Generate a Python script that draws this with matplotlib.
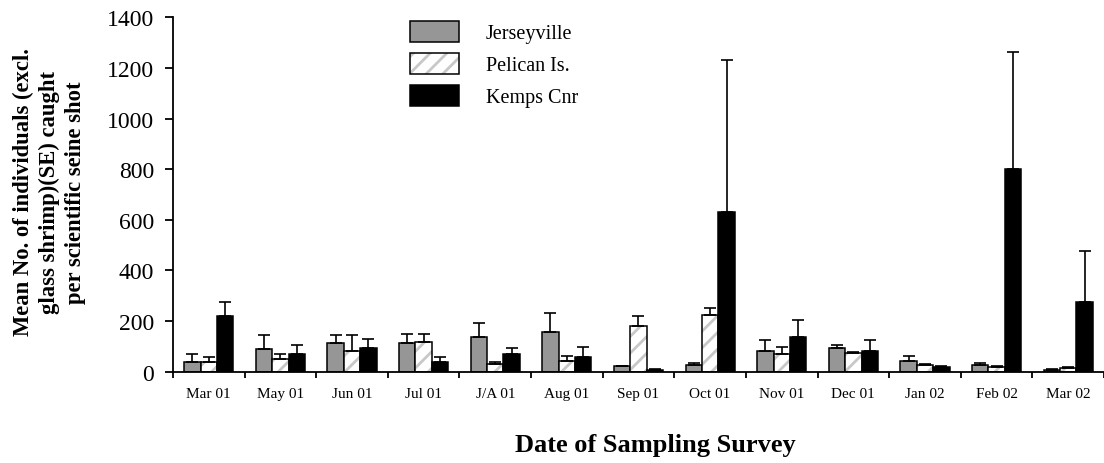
# Mean catch per seine shot at three sites, Mar 2001 - Mar 2002

import matplotlib
matplotlib.use('Agg')
import matplotlib.pyplot as plt
import numpy as np

surveys = ['Mar 01', 'May 01', 'Jun 01', 'Jul 01', 'J/A 01', 'Aug 01', 'Sep 01',
           'Oct 01', 'Nov 01', 'Dec 01', 'Jan 02', 'Feb 02', 'Mar 02']

jerseyville = [37, 88, 112, 112, 138, 157, 21, 26, 83, 93, 43, 26, 7]
jerseyville_se = [33, 55, 31, 38, 55, 74, 3, 7, 43, 13, 20, 7, 2]

pelican = [37, 50, 82, 118, 29, 43, 180, 225, 69, 72, 25, 20, 15]
pelican_se = [20, 20, 61, 32, 8, 20, 38, 25, 30, 4, 7, 1, 5]

kemps = [218, 71, 93, 38, 70, 57, 8, 630, 138, 83, 20, 800, 275]
kemps_se = [58, 35, 38, 19, 23, 42, 4, 600, 67, 43, 1, 462, 202]

plt.rcParams['font.family'] = ['Liberation Serif', 'DejaVu Serif']
plt.rcParams['hatch.linewidth'] = 2.0

fig = plt.figure(figsize=(11.04, 4.64), dpi=100)
ax = fig.add_axes([0.1567, 0.1968, 0.8433, 0.7638])

x = np.arange(len(surveys))
w = 0.229
err_kw = dict(fmt='none', ecolor='black', elinewidth=1.2, capsize=4.5, capthick=1.2)

def upper(se):
    return [np.zeros(len(se)), se]

b1 = ax.bar(x - w, jerseyville, w, color='#969696', edgecolor='black', linewidth=1.1, zorder=2)
ax.errorbar(x - w, jerseyville, yerr=upper(jerseyville_se), zorder=3, **err_kw)

b2h = ax.bar(x, pelican, w, color='white', edgecolor='#c8c8c8', hatch='//', linewidth=0, zorder=2)
b2 = ax.bar(x, pelican, w, color='none', edgecolor='black', linewidth=1.1, zorder=2)
ax.errorbar(x, pelican, yerr=upper(pelican_se), zorder=3, **err_kw)

b3 = ax.bar(x + w, kemps, w, color='black', edgecolor='black', linewidth=1.1, zorder=2)
ax.errorbar(x + w, kemps, yerr=upper(kemps_se), zorder=3, **err_kw)

ax.set_xlim(-0.5, len(surveys) - 0.5)
ax.set_ylim(0, 1400)
ax.set_yticks(np.arange(0, 1401, 200))
ax.set_xticks(x)
ax.set_xticklabels(surveys, fontsize=11)
ax.set_xticks(np.arange(-0.5, len(surveys), 1), minor=True)
ax.tick_params(axis='x', which='major', length=0, pad=11)
ax.tick_params(axis='x', which='minor', length=4, width=1.3, direction='out')
ax.tick_params(axis='y', labelsize=17, length=5.5, width=1.3, pad=8)
for s in ['top', 'right']:
    ax.spines[s].set_visible(False)
for s in ['left', 'bottom']:
    ax.spines[s].set_linewidth(1.3)

fig.text(655 / 1104, 0.04, 'Date of Sampling Survey', fontsize=19, fontweight='bold',
         ha='center', va='center')
fig.text(49 / 1104, 0.585, 'Mean No. of individuals (excl.\nglass shrimp)(SE) caught\nper scientific seine shot',
         fontsize=16.3, fontweight='bold', rotation=90, ha='center', va='center',
         multialignment='center', linespacing=1.3)

fig.legend([b1, (b2h, b2), b3], ['Jerseyville', 'Pelican Is.', 'Kemps Cnr'],
           loc='upper left', bbox_to_anchor=(410 / 1104, 1 - 22 / 464),
           frameon=False, fontsize=14.5, handlelength=2.45, handleheight=1.2,
           handletextpad=1.3, labelspacing=0.5, borderpad=0, borderaxespad=0)

fig.savefig('out.png', dpi=100, facecolor='white')
